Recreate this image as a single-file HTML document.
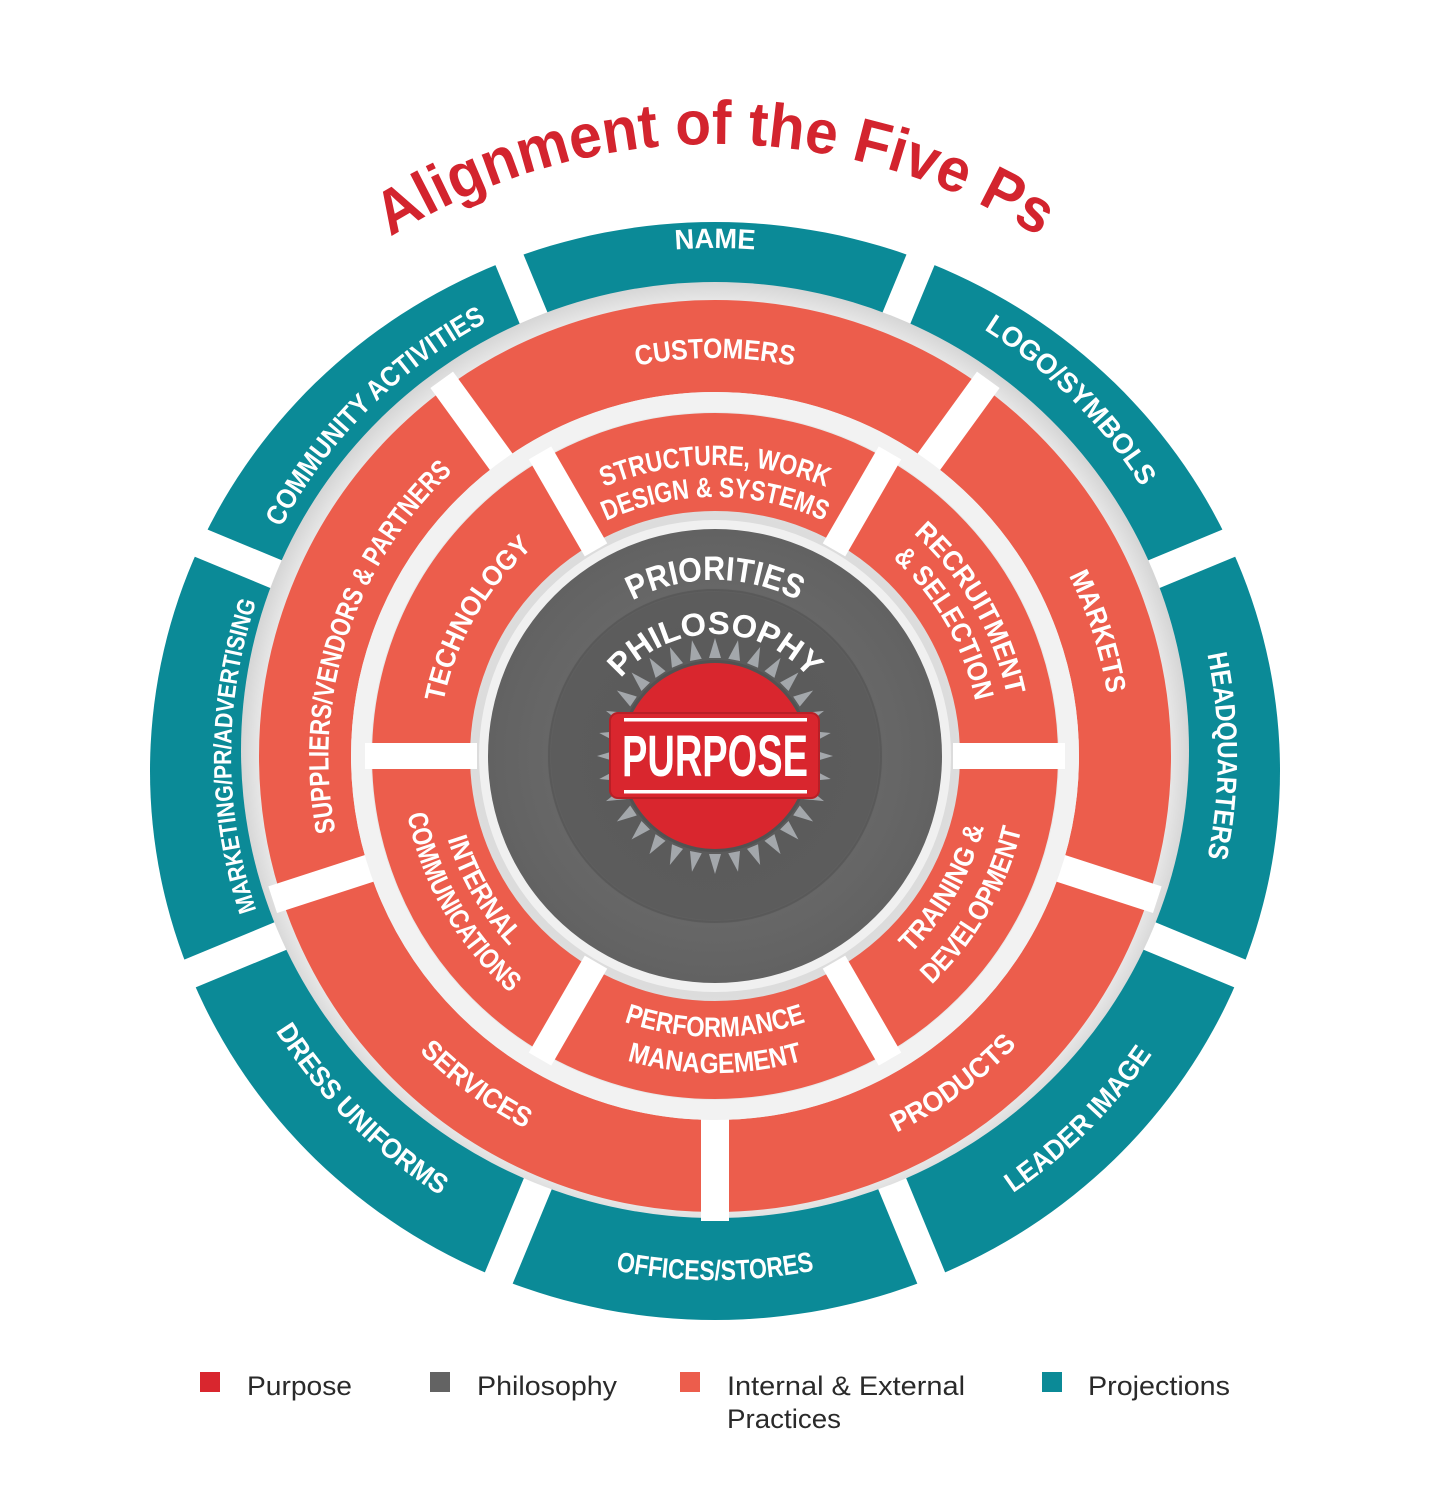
<!DOCTYPE html>
<html><head><meta charset="utf-8"><style>
html,body{margin:0;padding:0;background:#fff;}
svg{display:block;}
.lb{font-family:"Liberation Sans Narrow","Liberation Sans",sans-serif;font-weight:bold;fill:#fff;}
.lg{font-family:"Liberation Sans",sans-serif;font-size:27px;fill:#2a2a2a;}
</style></head><body>
<svg width="1430" height="1500" viewBox="0 0 1430 1500" xmlns="http://www.w3.org/2000/svg">
<defs>
<radialGradient id="gr" cx="715" cy="756" r="474" gradientUnits="userSpaceOnUse">
<stop offset="0" stop-color="#d8d8d8"/><stop offset="0.5" stop-color="#dcdcdc"/><stop offset="0.93" stop-color="#f4f4f4"/><stop offset="1" stop-color="#d6d6d6"/>
</radialGradient>
<radialGradient id="gd" cx="715" cy="756" r="227" gradientUnits="userSpaceOnUse">
<stop offset="0" stop-color="#595959"/><stop offset="0.72" stop-color="#5c5c5c"/><stop offset="0.74" stop-color="#676767"/><stop offset="1" stop-color="#626262"/>
</radialGradient>
<polygon id="sp" points="709,658 721,658 715,638" fill="#a3a7ab"/>
<path id="tTitle" d="M103,756 A612,612 0 0 1 1327,756"/>
<path id="tName" d="M207,756 A508,508 0 0 1 1223,756"/>
<path id="tLogo" d="M355.8,396.8 A508,508 0 0 1 1074.2,1115.2"/>
<path id="tHQ" d="M715,253 A503,503 0 0 1 715,1259"/>
<path id="tMkt" d="M715,1240 A484,484 0 0 1 715,272"/>
<path id="tCom" d="M364.3,1106.7 A496,496 0 0 1 1065.7,405.3"/>
<path id="tOff" d="M191,756 A524,524 0 0 0 1239,756"/>
<path id="tLead" d="M340.9,1130.1 A529,529 0 0 0 1089.1,381.9"/>
<path id="tDress" d="M345.9,386.9 A522,522 0 0 0 1084.1,1125.1"/>
<path id="tCust" d="M317,756 A398,398 0 0 1 1113,756"/>
<path id="tMarkets" d="M592.3,378.4 A397,397 0 0 1 837.7,1133.6"/>
<path id="tSup" d="M594.5,1126.9 A390,390 0 0 1 835.5,385.1"/>
<path id="tProd" d="M376.8,1001.7 A418,418 0 0 0 1053.2,510.3"/>
<path id="tServ" d="M376.8,510.3 A418,418 0 0 0 1053.2,1001.7"/>
<path id="tStr1" d="M424,756 A291,291 0 0 1 1006,756"/>
<path id="tStr2" d="M456,756 A259,259 0 0 1 974,756"/>
<path id="tTech" d="M576.5,995.9 A277,277 0 0 1 853.5,516.1"/>
<path id="tRec1" d="M565,496.2 A300,300 0 0 1 865,1015.8"/>
<path id="tRec2" d="M582,525.6 A266,266 0 0 1 848,986.4"/>
<path id="tPer1" d="M434,756 A281,281 0 0 0 996,756"/>
<path id="tPer2" d="M398,756 A317,317 0 0 0 1032,756"/>
<path id="tTr1" d="M576,996.8 A278,278 0 0 0 854,515.2"/>
<path id="tTr2" d="M557.5,1028.8 A315,315 0 0 0 872.5,483.2"/>
<path id="tIn1" d="M575,513.5 A280,280 0 0 0 855,998.5"/>
<path id="tIn2" d="M556.5,481.5 A317,317 0 0 0 873.5,1030.5"/>
<path id="tPri" d="M539,756 A176,176 0 0 1 891,756"/>
<path id="tPhi" d="M593,756 A122,122 0 0 1 837,756"/>
</defs>

<text font-family="Liberation Sans,sans-serif" font-weight="bold" font-size="62" fill="#d3242e"><textPath href="#tTitle" startOffset="50%" text-anchor="middle" textLength="684" lengthAdjust="spacingAndGlyphs">Alignment of the Five Ps</textPath></text>

<ellipse cx="715" cy="771" rx="565" ry="549" fill="#0b8a97"/>
<g stroke="#fff" stroke-width="30">
<line x1="883.4" y1="349.5" x2="944.6" y2="201.7"/>
<line x1="1121.5" y1="587.6" x2="1269.3" y2="526.4"/>
<line x1="1121.5" y1="924.4" x2="1269.3" y2="985.6"/>
<line x1="883.4" y1="1162.5" x2="944.6" y2="1310.3"/>
<line x1="546.6" y1="1162.5" x2="485.4" y2="1310.3"/>
<line x1="308.5" y1="924.4" x2="160.7" y2="985.6"/>
<line x1="308.5" y1="587.6" x2="160.7" y2="526.4"/>
<line x1="546.6" y1="349.5" x2="485.4" y2="201.7"/>
</g>
<ellipse cx="715" cy="750" rx="474" ry="468" fill="url(#gr)"/>

<circle cx="715" cy="756" r="410" fill="none" stroke="#ec5d4c" stroke-width="92"/>
<g stroke="#fff" stroke-width="28">
<line x1="923.7" y1="468.8" x2="988.3" y2="379.8"/>
<line x1="1052.6" y1="865.7" x2="1157.3" y2="899.7"/>
<line x1="715" y1="1111" x2="715" y2="1221"/>
<line x1="377.4" y1="865.7" x2="272.7" y2="899.7"/>
<line x1="506.3" y1="468.8" x2="441.7" y2="379.8"/>
</g>
<circle cx="715" cy="756" r="354" fill="none" stroke="#f2f2f2" stroke-width="20"/>

<circle cx="715" cy="756" r="294" fill="none" stroke="#ec5d4c" stroke-width="98"/>
<g stroke="#fff" stroke-width="26">
<line x1="834" y1="549.9" x2="890" y2="452.9"/>
<line x1="953" y1="756" x2="1065" y2="756"/>
<line x1="834" y1="962.1" x2="890" y2="1059.1"/>
<line x1="596" y1="962.1" x2="540" y2="1059.1"/>
<line x1="477" y1="756" x2="365" y2="756"/>
<line x1="596" y1="549.9" x2="540" y2="452.9"/>
</g>
<circle cx="715" cy="756" r="236" fill="#f0f0f0"/>

<circle cx="715" cy="756" r="227" fill="url(#gd)"/>
<circle cx="715" cy="756" r="166" fill="none" stroke="#545454" stroke-width="2" opacity="0.6"/>
<g>
<use href="#sp"/><use href="#sp" transform="rotate(11.25 715 756)"/><use href="#sp" transform="rotate(22.5 715 756)"/><use href="#sp" transform="rotate(33.75 715 756)"/>
<use href="#sp" transform="rotate(45 715 756)"/><use href="#sp" transform="rotate(56.25 715 756)"/><use href="#sp" transform="rotate(67.5 715 756)"/><use href="#sp" transform="rotate(78.75 715 756)"/>
<use href="#sp" transform="rotate(90 715 756)"/><use href="#sp" transform="rotate(101.25 715 756)"/><use href="#sp" transform="rotate(112.5 715 756)"/><use href="#sp" transform="rotate(123.75 715 756)"/>
<use href="#sp" transform="rotate(135 715 756)"/><use href="#sp" transform="rotate(146.25 715 756)"/><use href="#sp" transform="rotate(157.5 715 756)"/><use href="#sp" transform="rotate(168.75 715 756)"/>
<use href="#sp" transform="rotate(180 715 756)"/><use href="#sp" transform="rotate(191.25 715 756)"/><use href="#sp" transform="rotate(202.5 715 756)"/><use href="#sp" transform="rotate(213.75 715 756)"/>
<use href="#sp" transform="rotate(225 715 756)"/><use href="#sp" transform="rotate(236.25 715 756)"/><use href="#sp" transform="rotate(247.5 715 756)"/><use href="#sp" transform="rotate(258.75 715 756)"/>
<use href="#sp" transform="rotate(270 715 756)"/><use href="#sp" transform="rotate(281.25 715 756)"/><use href="#sp" transform="rotate(292.5 715 756)"/><use href="#sp" transform="rotate(303.75 715 756)"/>
<use href="#sp" transform="rotate(315 715 756)"/><use href="#sp" transform="rotate(326.25 715 756)"/><use href="#sp" transform="rotate(337.5 715 756)"/><use href="#sp" transform="rotate(348.75 715 756)"/>
</g>
<circle cx="715" cy="756" r="96" fill="#4a4a4a" opacity="0.5"/>
<circle cx="715" cy="756" r="93" fill="#d9262e"/>
<rect x="610" y="713" width="209" height="85" rx="8" fill="#d9262e" stroke="#b81f26" stroke-width="2"/>
<rect x="624" y="718" width="183" height="3.5" fill="#fff"/>
<rect x="624" y="790" width="183" height="3.5" fill="#fff"/>
<text x="715" y="776" text-anchor="middle" class="lb" font-size="58" textLength="186" lengthAdjust="spacingAndGlyphs">PURPOSE</text>

<g class="lb" font-size="28">
<text><textPath href="#tName" startOffset="50%" text-anchor="middle" textLength="80" lengthAdjust="spacingAndGlyphs">NAME</textPath></text>
<text><textPath href="#tLogo" startOffset="50%" text-anchor="middle" textLength="225" lengthAdjust="spacingAndGlyphs">LOGO/SYMBOLS</textPath></text>
<text><textPath href="#tHQ" startOffset="50%" text-anchor="middle" textLength="205" lengthAdjust="spacingAndGlyphs">HEADQUARTERS</textPath></text>
<text font-size="25"><textPath href="#tMkt" startOffset="50%" text-anchor="middle" textLength="314" lengthAdjust="spacingAndGlyphs">MARKETING/PR/ADVERTISING</textPath></text>
<text><textPath href="#tCom" startOffset="50%" text-anchor="middle" textLength="295" lengthAdjust="spacingAndGlyphs">COMMUNITY ACTIVITIES</textPath></text>
<text><textPath href="#tOff" startOffset="50%" text-anchor="middle" textLength="200" lengthAdjust="spacingAndGlyphs">OFFICES/STORES</textPath></text>
<text><textPath href="#tLead" startOffset="50%" text-anchor="middle" textLength="198" lengthAdjust="spacingAndGlyphs">LEADER IMAGE</textPath></text>
<text><textPath href="#tDress" startOffset="50%" text-anchor="middle" textLength="235" lengthAdjust="spacingAndGlyphs">DRESS UNIFORMS</textPath></text>
<text><textPath href="#tCust" startOffset="50%" text-anchor="middle" textLength="158" lengthAdjust="spacingAndGlyphs">CUSTOMERS</textPath></text>
<text><textPath href="#tMarkets" startOffset="50%" text-anchor="middle" textLength="125" lengthAdjust="spacingAndGlyphs">MARKETS</textPath></text>
<text><textPath href="#tSup" startOffset="50%" text-anchor="middle" textLength="395" lengthAdjust="spacingAndGlyphs">SUPPLIERS/VENDORS &amp; PARTNERS</textPath></text>
<text><textPath href="#tProd" startOffset="50%" text-anchor="middle" textLength="150" lengthAdjust="spacingAndGlyphs">PRODUCTS</textPath></text>
<text><textPath href="#tServ" startOffset="50%" text-anchor="middle" textLength="132" lengthAdjust="spacingAndGlyphs">SERVICES</textPath></text>
<text><textPath href="#tStr1" startOffset="50%" text-anchor="middle" textLength="228" lengthAdjust="spacingAndGlyphs">STRUCTURE, WORK</textPath></text>
<text><textPath href="#tStr2" startOffset="50%" text-anchor="middle" textLength="225" lengthAdjust="spacingAndGlyphs">DESIGN &amp; SYSTEMS</textPath></text>
<text><textPath href="#tTech" startOffset="50%" text-anchor="middle" textLength="182" lengthAdjust="spacingAndGlyphs">TECHNOLOGY</textPath></text>
<text><textPath href="#tRec1" startOffset="50%" text-anchor="middle" textLength="190" lengthAdjust="spacingAndGlyphs">RECRUITMENT</textPath></text>
<text><textPath href="#tRec2" startOffset="50%" text-anchor="middle" textLength="168" lengthAdjust="spacingAndGlyphs">&amp; SELECTION</textPath></text>
<text><textPath href="#tPer1" startOffset="50%" text-anchor="middle" textLength="185" lengthAdjust="spacingAndGlyphs">PERFORMANCE</textPath></text>
<text><textPath href="#tPer2" startOffset="50%" text-anchor="middle" textLength="178" lengthAdjust="spacingAndGlyphs">MANAGEMENT</textPath></text>
<text><textPath href="#tTr1" startOffset="50%" text-anchor="middle" textLength="148" lengthAdjust="spacingAndGlyphs">TRAINING &amp;</textPath></text>
<text><textPath href="#tTr2" startOffset="50%" text-anchor="middle" textLength="182" lengthAdjust="spacingAndGlyphs">DEVELOPMENT</textPath></text>
<text><textPath href="#tIn1" startOffset="50%" text-anchor="middle" textLength="125" lengthAdjust="spacingAndGlyphs">INTERNAL</textPath></text>
<text><textPath href="#tIn2" startOffset="50%" text-anchor="middle" textLength="210" lengthAdjust="spacingAndGlyphs">COMMUNICATIONS</textPath></text>
<text font-size="34"><textPath href="#tPri" startOffset="50%" text-anchor="middle" textLength="172" lengthAdjust="spacingAndGlyphs">PRIORITIES</textPath></text>
<text font-size="32"><textPath href="#tPhi" startOffset="50%" text-anchor="middle" textLength="215" lengthAdjust="spacingAndGlyphs">PHILOSOPHY</textPath></text>
</g>

<rect x="200" y="1372" width="20" height="20" fill="#d9262e"/>
<text x="247" y="1395" class="lg" textLength="105" lengthAdjust="spacingAndGlyphs">Purpose</text>
<rect x="430" y="1372" width="20" height="20" fill="#636363"/>
<text x="477" y="1395" class="lg" textLength="140" lengthAdjust="spacingAndGlyphs">Philosophy</text>
<rect x="680" y="1372" width="20" height="20" fill="#ec5d4c"/>
<text x="727" y="1395" class="lg" textLength="238" lengthAdjust="spacingAndGlyphs">Internal &amp; External</text>
<text x="727" y="1428" class="lg" textLength="114" lengthAdjust="spacingAndGlyphs">Practices</text>
<rect x="1042" y="1372" width="20" height="20" fill="#0b8a97"/>
<text x="1088" y="1395" class="lg" textLength="142" lengthAdjust="spacingAndGlyphs">Projections</text>
</svg>
</body></html>
